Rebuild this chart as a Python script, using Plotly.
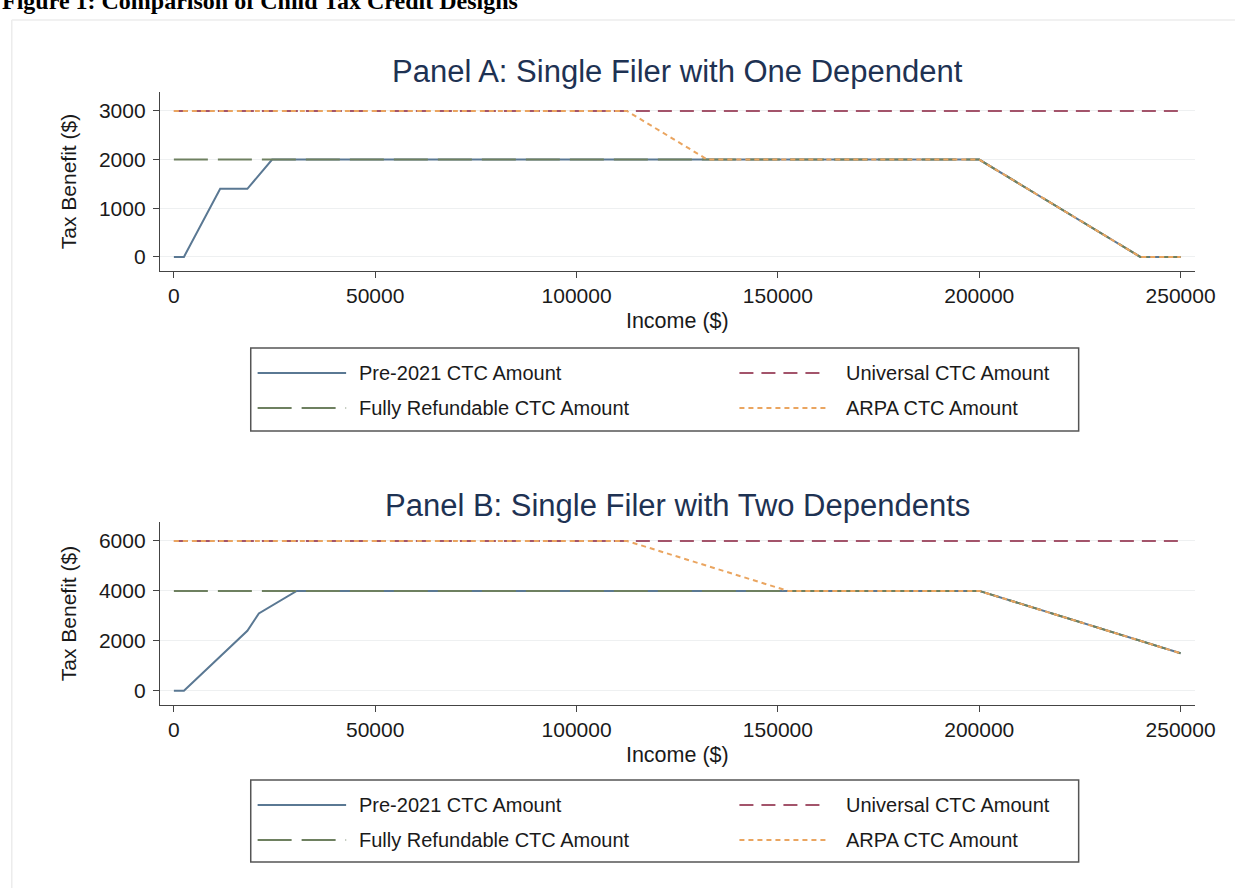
import plotly.graph_objects as go

W, H = 1256, 888

# ---------------- data ----------------
series_names = ["Pre-2021 CTC Amount", "Universal CTC Amount",
                "Fully Refundable CTC Amount", "ARPA CTC Amount"]

# Panel A: one dependent
a_pre_x = [0, 2500, 11500, 18250, 24400, 200000, 240000, 250000]
a_pre_y = [0, 0, 1400, 1400, 2000, 2000, 0, 0]
a_univ_x = [0, 250000]
a_univ_y = [3000, 3000]
a_full_x = [0, 200000, 240000, 250000]
a_full_y = [2000, 2000, 0, 0]
a_arpa_x = [0, 112500, 132500, 200000, 240000, 250000]
a_arpa_y = [3000, 3000, 2000, 2000, 0, 0]

# Panel B: two dependents
b_pre_x = [0, 2500, 18250, 21100, 30500, 200000, 250000]
b_pre_y = [0, 0, 2400, 3100, 4000, 4000, 1500]
b_univ_x = [0, 250000]
b_univ_y = [6000, 6000]
b_full_x = [0, 200000, 250000]
b_full_y = [4000, 4000, 1500]
b_arpa_x = [0, 112500, 152500, 200000, 250000]
b_arpa_y = [6000, 6000, 4000, 4000, 1500]

x_ticks = [0, 50000, 100000, 150000, 200000, 250000]
a_y_ticks = [0, 1000, 2000, 3000]
b_y_ticks = [0, 2000, 4000, 6000]

# ---------------- styles ----------------
colors = ["#5a7893", "#a3546b", "#6e8060", "#eaa560"]
dashes = ["solid", "14px,8px", "34px,10px", "5px,4px"]
widths = [2, 2, 2, 2]

FONT = "Liberation Sans, Arial, Helvetica, sans-serif"
TITLE_COLOR = "#1e3253"


def px_x(p):
    return p / W


def px_y(p):
    return 1 - p / H


fig = go.Figure()

panels = [
    ("x", "y", [(a_pre_x, a_pre_y), (a_univ_x, a_univ_y), (a_full_x, a_full_y), (a_arpa_x, a_arpa_y)]),
    ("x2", "y2", [(b_pre_x, b_pre_y), (b_univ_x, b_univ_y), (b_full_x, b_full_y), (b_arpa_x, b_arpa_y)]),
]
for xa, ya, data in panels:
    for i, (xs, ys) in enumerate(data):
        fig.add_trace(go.Scatter(
            x=xs, y=ys, mode="lines", name=series_names[i], xaxis=xa, yaxis=ya,
            line=dict(color=colors[i], width=widths[i], dash=dashes[i]),
            showlegend=False, hoverinfo="skip"))

x_dom = [px_x(162.7), px_x(1215)]
a_dom = [px_y(271), px_y(92)]
b_dom = [px_y(705), px_y(522)]

common_x = dict(
    range=[-3450, 253500], tickvals=x_ticks, ticktext=[str(v) for v in x_ticks],
    showline=True, linecolor="#444444", linewidth=1.3, ticks="outside", ticklen=6,
    tickcolor="#444444", tickwidth=1.2, showgrid=False, zeroline=False,
    tickfont=dict(family=FONT, size=21, color="#1a1a1a"),
    title=dict(text="Income ($)", font=dict(family=FONT, size=21.5, color="#1a1a1a"), standoff=6),
)
common_y = dict(
    showline=True, linecolor="#444444", linewidth=1.3, ticks="outside", ticklen=6,
    tickcolor="#444444", tickwidth=1.2, showgrid=True, gridcolor="#eef0f1", gridwidth=1,
    zeroline=False, tickfont=dict(family=FONT, size=21, color="#1a1a1a"),
    ticklabelstandoff=3,
    title=dict(text="Tax Benefit ($)", font=dict(family=FONT, size=21, color="#1a1a1a"), standoff=16),
)

fig.update_layout(
    autosize=True, margin=dict(l=0, r=0, t=0, b=0),
    paper_bgcolor="white", plot_bgcolor="white",
    xaxis=dict(domain=x_dom, anchor="y", **common_x),
    yaxis=dict(domain=a_dom, anchor="x", range=[-290, 3390], tickvals=a_y_ticks, **common_y),
    xaxis2=dict(domain=x_dom, anchor="y2", **common_x),
    yaxis2=dict(domain=b_dom, anchor="x2", range=[-570, 6760], tickvals=b_y_ticks, **common_y),
)

annotations = []
shapes = []

# figure heading (partially cut at top, as in the source image)
annotations.append(dict(
    text="<b>Figure 1: Comparison of Child Tax Credit Designs</b>", xref="paper", yref="paper",
    x=px_x(0), y=px_y(16), xanchor="left", yanchor="bottom", showarrow=False,
    font=dict(family="Liberation Serif, Times New Roman, serif", size=24, color="black")))

# faint graph-region border
shapes.append(dict(type="line", xref="paper", yref="paper", x0=px_x(12), x1=1.0,
                   y0=px_y(20), y1=px_y(20), line=dict(color="#ececec", width=1.5)))
shapes.append(dict(type="line", xref="paper", yref="paper", x0=px_x(12), x1=px_x(12),
                   y0=px_y(20), y1=0, line=dict(color="#ececec", width=1.5)))

# panel titles
panel_titles = ["Panel A: Single Filer with One Dependent", "Panel B: Single Filer with Two Dependents"]
for t, ypx in zip(panel_titles, [71, 505]):
    annotations.append(dict(
        text=t, xref="paper", yref="paper", x=px_x(689), y=px_y(ypx),
        xanchor="center", yanchor="middle", showarrow=False,
        font=dict(family=FONT, size=31, color=TITLE_COLOR)))

# legends (one per panel)
legend_boxes = [(255, 348, 1097, 431), (255, 780, 1097, 862)]
for (bx0, by0, bx1, by1) in legend_boxes:
    shapes.append(dict(type="rect", xref="paper", yref="paper",
                       x0=px_x(bx0), x1=px_x(bx1), y0=px_y(by1), y1=px_y(by0),
                       line=dict(color="#555555", width=1.5), fillcolor="white", layer="below"))
    r1 = by0 + 25
    r2 = by0 + 60
    items = [(0, 262, 352, 363, r1), (1, 752, 840, 858, r1),
             (2, 262, 352, 363, r2), (3, 752, 840, 858, r2)]
    for idx, lx0, lx1, tx, ry in items:
        shapes.append(dict(type="line", xref="paper", yref="paper",
                           x0=px_x(lx0), x1=px_x(lx1), y0=px_y(ry), y1=px_y(ry),
                           line=dict(color=colors[idx], width=2, dash=dashes[idx])))
        annotations.append(dict(
            text=series_names[idx], xref="paper", yref="paper", x=px_x(tx), y=px_y(ry),
            xanchor="left", yanchor="middle", showarrow=False,
            font=dict(family=FONT, size=20, color="#1a1a1a")))

fig.update_layout(annotations=annotations, shapes=shapes)

fig.write_html(
    "out.html",
    config={"displayModeBar": False},
    default_width="100vw", default_height="100vh",
    post_script=("document.body.style.margin='0';document.body.style.overflow='hidden';"
                 "Plotly.Plots.resize(document.getElementById('{plot_id}'));"))
